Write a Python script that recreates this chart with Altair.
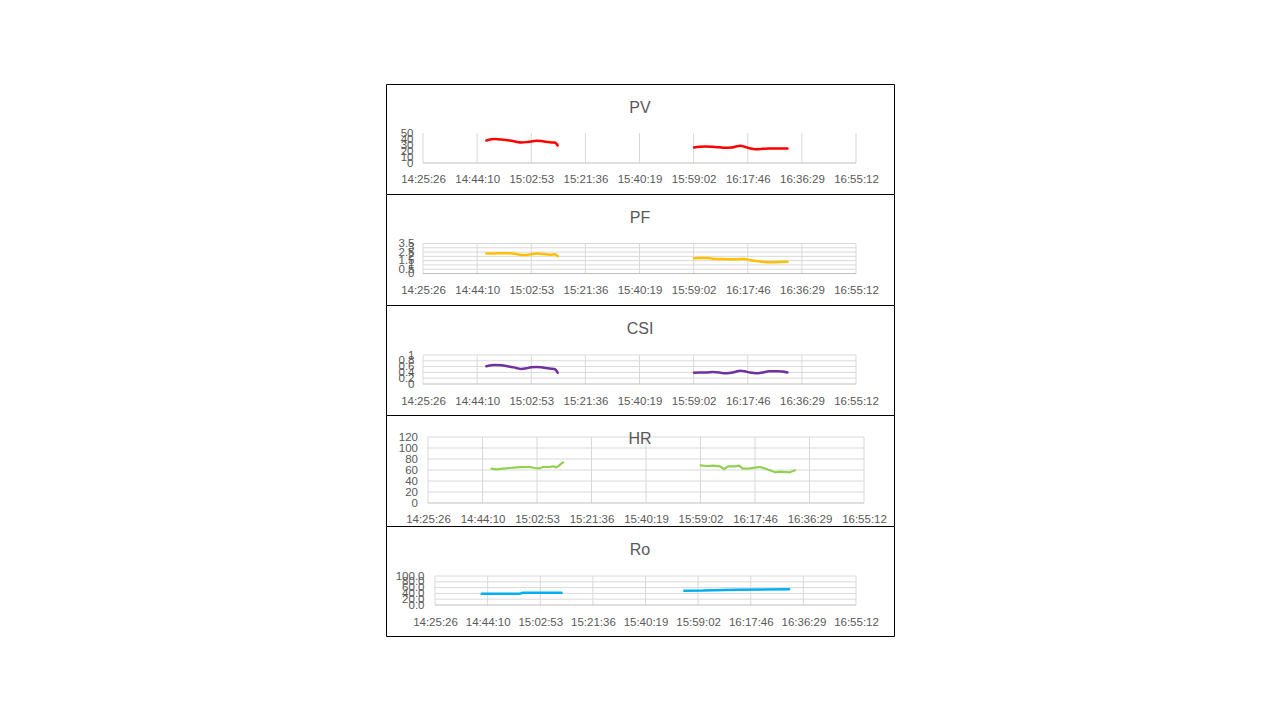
import altair as alt
import pandas as pd

# ---------------- data ----------------
TICK_LABELS = ["14:25:26", "14:44:10", "15:02:53", "15:21:36", "15:40:19",
               "15:59:02", "16:17:46", "16:36:29", "16:55:12"]

# shared sampling times for PV / PF / CSI
T_SEG1 = ["14:47:20", "14:50:10", "14:52:30", "14:55:30", "14:57:40", "14:59:30",
          "15:01:10", "15:02:50", "15:04:40", "15:06:20", "15:08:00", "15:09:50",
          "15:10:50", "15:11:30", "15:12:00"]
T_SEG2 = ["15:59:10", "16:01:00", "16:03:20", "16:05:40", "16:08:00", "16:09:40",
          "16:12:00", "16:13:40", "16:15:10", "16:16:40", "16:18:20", "16:20:40",
          "16:23:00", "16:25:10", "16:28:10", "16:31:30"]

PV_1 = [37.6, 39.9, 39.3, 37.6, 35.4, 34.3, 34.8, 36.0, 37.1, 36.5, 35.4, 34.3, 34.3, 32.6, 29.2]
PV_2 = [25.8, 27.0, 27.5, 27.0, 26.4, 25.3, 25.8, 27.5, 28.7, 27.0, 24.7, 23.0, 23.6, 24.2, 24.2, 24.2]

PF_1 = [2.32, 2.34, 2.36, 2.36, 2.28, 2.17, 2.17, 2.24, 2.32, 2.28, 2.24, 2.20, 2.24, 2.17, 2.05]
PF_2 = [1.77, 1.81, 1.81, 1.73, 1.69, 1.69, 1.65, 1.65, 1.69, 1.69, 1.57, 1.46, 1.38, 1.30, 1.34, 1.38]

CSI_1 = [0.61, 0.655, 0.644, 0.598, 0.552, 0.517, 0.54, 0.575, 0.586, 0.575, 0.552, 0.529, 0.517, 0.471, 0.39]
CSI_2 = [0.39, 0.40, 0.40, 0.414, 0.40, 0.368, 0.39, 0.425, 0.46, 0.437, 0.40, 0.368, 0.40, 0.437, 0.437, 0.40]

HR_T1 = ["14:47:14", "14:48:56", "14:51:14", "14:53:32", "14:55:50", "14:58:08",
         "15:00:26", "15:02:08", "15:03:50", "15:04:56", "15:07:14", "15:08:26",
         "15:09:32", "15:10:26", "15:11:14", "15:11:50"]
HR_1 = [62.4, 61.2, 62.4, 63.6, 64.8, 65.5, 65.5, 63.6, 63.0, 65.5, 65.5, 66.7, 64.8, 67.9, 71.5, 73.9]
HR_T2 = ["15:59:08", "16:01:08", "16:03:26", "16:05:44", "16:07:08", "16:08:32",
         "16:10:50", "16:12:20", "16:13:32", "16:16:02", "16:17:44", "16:19:26",
         "16:21:44", "16:24:38", "16:26:20", "16:28:02", "16:29:44", "16:31:32"]
HR_2 = [68.5, 67.3, 67.9, 66.7, 61.8, 66.7, 66.7, 67.9, 62.4, 63.0, 64.2, 65.5, 61.8, 55.8, 57.0, 56.4, 55.8, 59.4]

RO_T1 = ["14:42:02", "14:55:40", "14:56:40", "15:10:26"]
RO_1 = [39.1, 39.1, 42.3, 42.5]
RO_T2 = ["15:54:08", "16:00:40", "16:12:30", "16:31:26"]
RO_2 = [49.4, 49.6, 52.6, 54.2]

PV_TICKS = [0, 10, 20, 30, 40, 50]
PF_TICKS = [0, 0.5, 1, 1.5, 2, 2.5, 3, 3.5]
CSI_TICKS = [0, 0.2, 0.4, 0.6, 0.8, 1]
HR_TICKS = [0, 20, 40, 60, 80, 100, 120]
RO_TICKS = [0, 20, 40, 60, 80, 100]


def secs(s):
    h, m, x = s.split(":")
    return int(h) * 3600 + int(m) * 60 + int(x)


TICK_SECS = [secs(s) for s in TICK_LABELS]
X0, X1 = TICK_SECS[0], TICK_SECS[-1]

FONT = "Liberation Sans"
TXT = "#595959"
GRID = "#d9d9d9"
W = 508
X_LABEL_EXPR = "timeFormat(datetime(2000, 0, 1, 0, 0, datum.value), '%H:%M:%S')"


def panel(name, t1, v1, t2, v2, color, yticks, ylabel_expr, box_h,
          px0, px1, py_top, py_bot, xlab_base, ylab_pad, hgrid=True,
          sw=2.5, interp="monotone"):
    df = pd.DataFrame({
        "t": [secs(t) for t in t1 + t2],
        "v": v1 + v2,
        "seg": [1] * len(t1) + [2] * len(t2),
    })
    xs = alt.Scale(domain=[X0, X1], range=[px0, px1], nice=False, zero=False)
    ys = alt.Scale(domain=[yticks[0], yticks[-1]], range=[py_bot, py_top], nice=False, zero=False)
    xaxis = alt.Axis(values=TICK_SECS, labelExpr=X_LABEL_EXPR, grid=False, domain=False,
                     ticks=False, offset=py_bot - box_h, labelPadding=xlab_base - py_bot,
                     labelBaseline="alphabetic", labelFlush=False, labelOverlap=False,
                     labelFont=FONT, labelFontSize=11.5, labelColor=TXT, title=None)
    yaxis = alt.Axis(values=yticks, labelExpr=ylabel_expr, grid=False, domain=False,
                     ticks=False, offset=-px0, labelPadding=ylab_pad, labelOverlap=False,
                     labelFlush=False, labelFont=FONT, labelFontSize=11.5, labelColor=TXT,
                     title=None)
    X = alt.X("t:Q", scale=xs, axis=xaxis)
    Y = alt.Y("v:Q", scale=ys, axis=yaxis)

    vgrid_df = pd.DataFrame({"t": TICK_SECS, "v": [yticks[0]] * len(TICK_SECS),
                             "v2": [yticks[-1]] * len(TICK_SECS)})
    hvals = yticks[1:] if hgrid else []
    hgrid_df = pd.DataFrame({"t": [X0] * len(hvals), "t2": [X1] * len(hvals), "v": hvals})
    base_df = pd.DataFrame({"t": [X0], "t2": [X1], "v": [yticks[0]]})

    vrules = alt.Chart(vgrid_df).mark_rule(color=GRID, strokeWidth=1).encode(
        x=X, y=Y, y2="v2:Q")
    layers = [vrules]
    if hvals:
        layers.append(alt.Chart(hgrid_df).mark_rule(color=GRID, strokeWidth=1).encode(
            x=X, x2="t2:Q", y=Y))
    layers.append(alt.Chart(base_df).mark_rule(color="#bfbfbf", strokeWidth=1).encode(
        x=X, x2="t2:Q", y=Y))
    layers.append(alt.Chart(df).mark_line(color=color, strokeWidth=sw, interpolate=interp,
                                          strokeCap="round", strokeJoin="round").encode(
        x=X, y=Y, detail="seg:N"))
    layers.append(alt.Chart(pd.DataFrame({"label": [name]})).mark_text(
        font=FONT, fontSize=16, color=TXT, align="center", baseline="alphabetic").encode(
        text="label:N", x=alt.value(W / 2), y=alt.value(28.5)))
    return alt.layer(*layers).properties(width=W, height=box_h)


p_pv = panel("PV", T_SEG1, PV_1, T_SEG2, PV_2, "#ff0000", PV_TICKS, "'' + datum.value",
             110, 37, 470, 49, 79, 98.5, 10, hgrid=False)
p_pf = panel("PF", T_SEG1, PF_1, T_SEG2, PF_2, "#ffc000", PF_TICKS, "'' + datum.value",
             111, 37, 470, 49.5, 79.5, 99.5, 9)
p_csi = panel("CSI", T_SEG1, CSI_1, T_SEG2, CSI_2, "#7030a0", CSI_TICKS, "'' + datum.value",
              110, 37, 470, 50, 79, 99, 9)
p_hr = panel("HR", HR_T1, HR_1, HR_T2, HR_2, "#92d050", HR_TICKS, "'' + datum.value",
             111, 42, 478, 22, 88, 107, 10.5, sw=2.2, interp="linear")
p_ro = panel("Ro", RO_T1, RO_1, RO_T2, RO_2, "#00b0f0", RO_TICKS, "format(datum.value, '.1f')",
             110, 49, 470, 50, 79, 99, 11, interp="linear")

chart = alt.vconcat(p_pv, p_pf, p_csi, p_hr, p_ro, spacing=0, bounds="flush").properties(
    padding={"left": 377, "top": 75, "right": 10, "bottom": 10}
).configure_view(stroke="black", strokeWidth=1, fill="white")

chart.save("out.html", embed_options={"renderer": "svg", "actions": False})
